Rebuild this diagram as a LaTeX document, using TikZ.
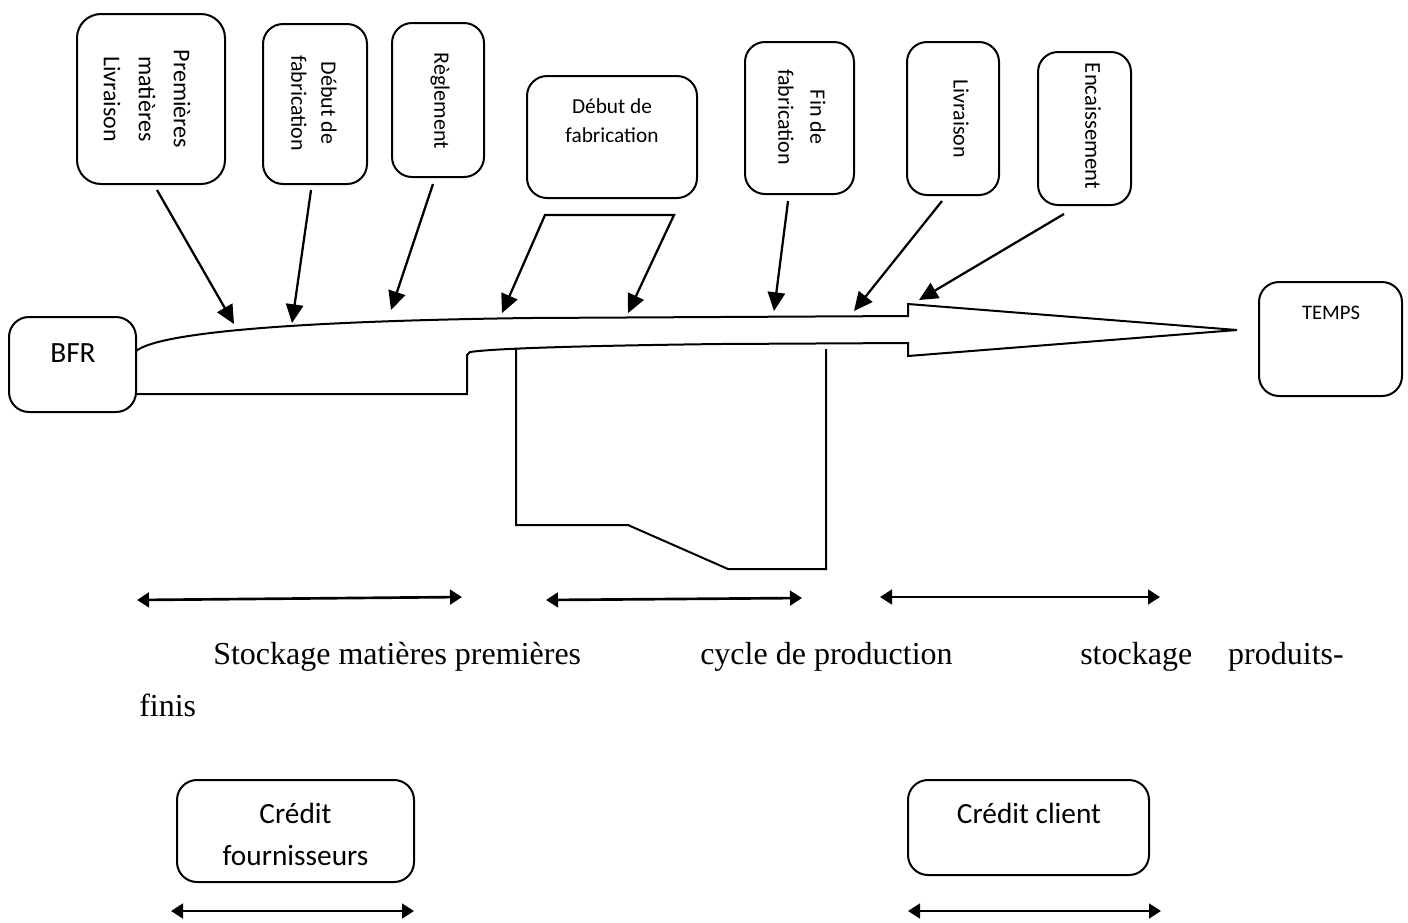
\documentclass[tikz,border=0pt]{standalone}
\usepackage{fontspec}
\setmainfont{Liberation Serif}
\newfontfamily\calibri{Carlito}
\usetikzlibrary{arrows.meta}
\begin{document}
\begin{tikzpicture}[x=0.75pt,y=-0.75pt,
  box/.style={draw, line width=1.5pt, rounded corners=15pt, inner sep=0pt},
  lbl/.style={align=center, inner sep=0pt},
  small/.style={font=\calibri\fontsize{16.5}{22.5}\selectfont},
  large/.style={font=\calibri\fontsize{22}{31.5}\selectfont},
  pointer/.style={line width=1.7pt, -{Triangle[length=14pt,width=13pt]}},
  twin/.style={line width=1.7pt, {Triangle[length=14pt,width=13pt]}-{Triangle[length=14pt,width=13pt]}, line join=miter},
  span/.style={line width=2pt, {Triangle[length=9pt,width=11pt]}-{Triangle[length=9pt,width=11pt]}},
  outline/.style={line width=1.5pt, line join=miter},
  caption/.style={font=\fontsize{24}{29}\selectfont, anchor=base west, inner sep=0pt}]

\fill[white] (0,0) rectangle (1408,922);
\useasboundingbox (0,0) rectangle (1408,922);

% ---- event boxes along the top ----
\node[box, rounded corners=18pt, minimum width=111pt, minimum height=127.5pt] (b1) at (151,99) {};
\node[lbl, rotate=-90, font=\calibri\fontsize{18}{26.25}\selectfont] (l1) at (147,99) {Premières\\matières\\Livraison};

\node[box, minimum width=78pt, minimum height=120pt] (b2) at (315,104) {};
\node[lbl, small, rotate=-90] (l2) at (314,103) {Début de\\fabrication};

\node[box, minimum width=69pt, minimum height=115.5pt] (b3) at (438,100) {};
\node[lbl, small, rotate=-90] (l3) at (440,101) {Règlement};

\node[box, minimum width=127.5pt, minimum height=91.5pt] (b4) at (612,137) {};
\node[lbl, font=\calibri\fontsize{16}{22}\selectfont] (l4) at (612,120.5) {Début de\\fabrication};

\node[box, minimum width=81.75pt, minimum height=114pt] (b5) at (799.5,118) {};
\node[lbl, font=\calibri\fontsize{16.5}{24}\selectfont, rotate=-90] (l5) at (802,117) {Fin de\\fabrication};

\node[box, minimum width=69pt, minimum height=114.75pt] (b6) at (953,118.5) {};
\node[lbl, small, rotate=-90] (l6) at (961,118.5) {Livraison};

\node[box, minimum width=69.75pt, minimum height=114.75pt] (b7) at (1084.5,128.5) {};
\node[lbl, font=\calibri\fontsize{17}{22.5}\selectfont, rotate=-90] (l7) at (1093,126) {Encaissement};

% ---- start and end of the time line ----
\node[box, minimum width=95.25pt, minimum height=71.25pt] (bfr) at (72.5,364.5) {};
\node[lbl, large] (lbfr) at (73,353) {BFR};

\node[box, minimum width=107.25pt, minimum height=85.5pt] (temps) at (1330.5,339) {};
\node[lbl, font=\calibri\fontsize{15.5}{20}\selectfont] (ltemps) at (1331,313) {TEMPS};

% ---- credit boxes ----
\node[box, minimum width=177.75pt, minimum height=76.5pt] (cf) at (295.5,831) {};
\node[lbl, large] (lcf) at (295.5,834) {Crédit\\fournisseurs};

\node[box, minimum width=180.75pt, minimum height=71.25pt] (cc) at (1028.5,827.5) {};
\node[lbl, large] (lcc) at (1029,813) {Crédit client};

% ---- the BFR time arrow ----
\draw[outline] (136,351) .. controls (160,332) and (300,321) .. (530,318) -- (908,316)
  -- (908,304) -- (1237,330) -- (908,356) -- (908,343)
  -- (720,344) .. controls (560,346) and (490,349) .. (470,352) -- (467,355)
  -- (467,394) -- (136,394);

% production cycle profile below the arrow
\draw[outline] (516,349) -- (516,525) -- (628,525) -- (728,569) -- (826,569) -- (826,349);

% ---- event pointers ----
\coordinate (t1) at (234,324);
\coordinate (t2) at (292,323);
\coordinate (t3) at (391,310);
\coordinate (t4a) at (502,313);
\coordinate (t4b) at (628,313);
\coordinate (t5) at (774,311);
\coordinate (t6) at (854,311);
\coordinate (t7) at (919,300);

\draw[pointer] ([xshift=4.5pt,yshift=-3.75pt]b1.south) -- (t1);
\draw[pointer] ([xshift=-3pt,yshift=-3.75pt]b2.south) -- (t2);
\draw[pointer] ([xshift=-3.75pt,yshift=-4.5pt]b3.south) -- (t3);
\draw[twin] (t4a) -- ([xshift=-50.25pt,yshift=-12pt]b4.south) -- ([xshift=46.5pt,yshift=-12pt]b4.south) -- (t4b);
\draw[pointer] ([xshift=-8.6pt,yshift=-4.5pt]b5.south) -- (t5);
\draw[pointer] ([xshift=-8.25pt,yshift=-3.75pt]b6.south) -- (t6);
\draw[pointer] ([xshift=-15.4pt,yshift=-6pt]b7.south) -- (t7);

% ---- duration spans ----
\coordinate (s1a) at (137,600);
\coordinate (s1b) at (462,597);
\coordinate (s2a) at (546,600);
\coordinate (s2b) at (802,598);
\coordinate (s3a) at (880,597);
\coordinate (s3b) at (1160,597);
\coordinate (s4a) at (171,911);
\coordinate (s4b) at (414,911);
\coordinate (s5a) at (908,911);
\coordinate (s5b) at (1161,911);
\draw[span] (s1a) -- (s1b);
\draw[span] (s2a) -- (s2b);
\draw[span] (s3a) -- (s3b);
\draw[span] (s4a) -- (s4b);
\draw[span] (s5a) -- (s5b);

% ---- captions ----
\node[caption] (c1) at (213,664) {Stockage matières premières};
\node[caption] (c2) at (700,664) {cycle de production};
\node[caption] (c3) at (1080,664) {stockage};
\node[caption, anchor=base east] (c4) at (1344,664) {produits-};
\node[caption] (c5) at (139,716) {finis};
\end{tikzpicture}
\end{document}
